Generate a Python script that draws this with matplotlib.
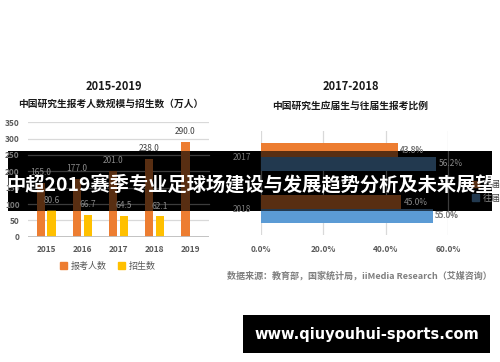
import numpy as np
import matplotlib
matplotlib.use('Agg')
import matplotlib.pyplot as plt
from matplotlib.patches import Rectangle, Patch

plt.rcParams['font.family'] = ['Noto Sans CJK SC', 'DejaVu Sans']

# 左图：报考人数与招生数（万人）
years = ['2015', '2016', '2017', '2018', '2019']
applicants = [165.0, 177.0, 201.0, 238.0, 290.0]
admitted = [80.6, 66.7, 64.5, 62.1]  # 2019 无数据

# 右图：应届生 / 往届生 报考比例（%）
groups = ['2017', '2018']
fresh = [43.8, 45.0]
past = [56.2, 55.0]

W, H = 500, 362
fig = plt.figure(figsize=(W / 100, H / 100), dpi=100)


def box(l, t, r, b):
    # пиксели -> доли фигуры
    return [l / W, 1 - b / H, (r - l) / W, (b - t) / H]


def draw(dim):
    if dim:
        c_or, c_ye, c_bl = '#582e12', '#5e4700', '#22394f'
        c_grid, c_txt, c_tick = '#3c3c3c', '#8a8a8a', '#7a7a7a'
    else:
        c_or, c_ye, c_bl = '#ED7D31', '#FFC000', '#5B9BD5'
        c_grid, c_txt, c_tick = '#d9d9d9', '#404040', '#595959'

    # ---- left chart ----
    ax1 = fig.add_axes(box(28, 122.3, 209, 236.7))
    x = np.arange(len(years))
    ax1.bar(x - 0.15, applicants, 0.23, color=c_or, zorder=2)
    ax1.bar(x[:len(admitted)] + 0.15, admitted, 0.23, color=c_ye, zorder=2)
    for xi, v in zip(x - 0.15, applicants):
        ax1.annotate(f'{v:.1f}', (xi, v), xytext=(0, 4), textcoords='offset points',
                     ha='center', va='bottom', fontsize=6, color=c_txt)
    for xi, v in zip(x[:len(admitted)] + 0.15, admitted):
        ax1.annotate(f'{v:.1f}', (xi, v), xytext=(0, 4), textcoords='offset points',
                     ha='center', va='bottom', fontsize=6, color=c_txt)
    ax1.set_xlim(-0.5, len(years) - 0.5)
    ax1.set_ylim(0, 350)
    ax1.set_yticks(np.arange(0, 351, 50))
    ax1.set_xticks(x)
    ax1.set_xticklabels(years)
    ax1.grid(axis='y', color=c_grid, lw=0.9)
    ax1.set_axisbelow(True)
    for s in ax1.spines.values():
        s.set_visible(False)
    ax1.axhline(0, color='#bfbfbf', lw=1.3, zorder=3)
    ax1.tick_params(length=0, labelsize=6, colors=c_tick, pad=6)
    for t in ax1.get_xticklabels() + ax1.get_yticklabels():
        t.set_fontweight('bold')
    if not dim:
        ax1.legend(handles=[Patch(color=c_or, label='报考人数'),
                            Patch(color=c_ye, label='招生数')],
                   loc='center', bbox_to_anchor=(108 / W, 1 - 266 / H),
                   bbox_transform=fig.transFigure, ncol=2, frameon=False,
                   fontsize=6.5, handlelength=0.8, handleheight=0.8,
                   handletextpad=0.4, columnspacing=1.2,
                   labelcolor='#595959')

    # ---- right chart ----
    ax2 = fig.add_axes(box(261, 131, 448.3, 235))
    y = np.arange(len(groups))
    ax2.barh(y - 0.13, fresh, 0.26, color=c_or, zorder=2)
    ax2.barh(y + 0.13, past, 0.26, color=c_bl, zorder=2)
    for yi, v in zip(y - 0.13, fresh):
        ax2.text(v + 0.8, yi, f'{v:.1f}%', va='center', fontsize=6, color=c_txt)
    for yi, v in zip(y + 0.13, past):
        ax2.text(v + 0.8, yi, f'{v:.1f}%', va='center', fontsize=6, color=c_txt)
    ax2.set_xlim(0, 60)
    ax2.set_ylim(1.5, -0.5)
    ax2.set_xticks([0, 20, 40, 60])
    ax2.set_xticklabels(['0.0%', '20.0%', '40.0%', '60.0%'])
    ax2.set_yticks(y)
    ax2.set_yticklabels(groups)
    ax2.grid(axis='x', color=c_grid, lw=0.9)
    ax2.set_axisbelow(True)
    for s in ax2.spines.values():
        s.set_visible(False)
    ax2.tick_params(length=0, labelsize=6, colors=c_tick, pad=7)
    for t in ax2.get_xticklabels():
        t.set_fontweight('bold')
    ax2.legend(handles=[Patch(color=c_or, label='应届生'),
                        Patch(color=c_bl, label='往届生')],
               loc='upper left', bbox_to_anchor=(464 / W, 1 - 172 / H),
               bbox_transform=fig.transFigure, frameon=False,
               fontsize=6.5, handlelength=0.8, handleheight=0.8,
               handletextpad=0.4, labelspacing=0.5,
               labelcolor=c_txt)

    if dim:
        clip = Rectangle((8 / W, 1 - 211 / H), 484 / W, 60 / H,
                         transform=fig.transFigure)
        for ax in (ax1, ax2):
            ax.set_zorder(2)
            ax.patch.set_visible(False)
            for a in ax.findobj():
                if a is not ax:
                    a.set_clip_path(clip)
    return ax1, ax2


draw(False)

# заголовки
fig.text(114 / W, 1 - 86 / H, '2015-2019', ha='center', va='center',
         fontsize=8, fontweight='bold', color='#1a1a1a')
fig.text(111 / W, 1 - 104 / H, '中国研究生报考人数规模与招生数（万人）', ha='center',
         va='center', fontsize=7, fontweight='bold', color='#1a1a1a')
fig.text(350.5 / W, 1 - 87 / H, '2017-2018', ha='center', va='center',
         fontsize=8, fontweight='bold', color='#1a1a1a')
fig.text(350.5 / W, 1 - 106 / H, '中国研究生应届生与往届生报考比例', ha='center',
         va='center', fontsize=7, fontweight='bold', color='#1a1a1a')
fig.text(227 / W, 1 - 276 / H, '数据来源：教育部，国家统计局，iiMedia Research（艾媒咨询）',
         ha='left', va='center', fontsize=6.5, fontweight='bold', color='#7f7f7f')

# баннер поверх графиков
fig.add_artist(Rectangle((8 / W, 1 - 211 / H), 484 / W, 60 / H,
                         transform=fig.transFigure, color='black', lw=0, zorder=1))
draw(True)
fig.text(250.5 / W, 1 - 185 / H, '中超2019赛季专业足球场建设与发展趋势分析及未来展望',
         ha='center', va='center', fontsize=13.9, fontweight='bold',
         color='white', zorder=3)

# водяной знак
fig.add_artist(Rectangle((243 / W, 1 - 353 / H), 247 / W, 38 / H,
                         transform=fig.transFigure, color='black', lw=0, zorder=1))
fig.text(367 / W, 1 - 334 / H, 'www.qiuyouhui-sports.com', ha='center', va='center',
         fontsize=10.5, fontweight='bold', color='white', zorder=3,
         family='DejaVu Sans')

fig.savefig('out.png', dpi=100)
